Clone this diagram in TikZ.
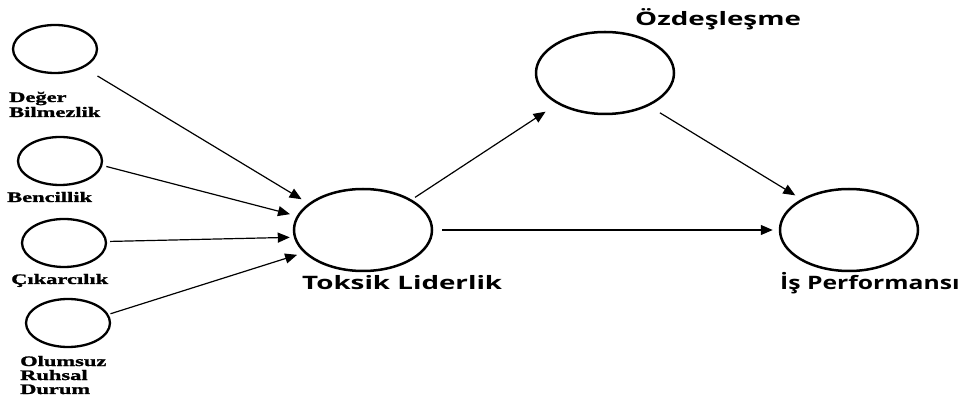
\documentclass[tikz,border=0pt]{standalone}
\usepackage{fontspec}
\usetikzlibrary{arrows.meta,shapes.geometric}
\newfontfamily\labserif[FakeStretch=1.55,FakeBold=1.5]{Liberation Serif}
\newfontfamily\labsans[FakeStretch=1.5]{Open Sans}
\begin{document}
\begin{tikzpicture}[x=1pt,y=-1pt,
  small/.style={draw,ellipse,line width=2.3pt,inner sep=0pt,minimum width=84pt,minimum height=48pt},
  big/.style={draw,ellipse,line width=2.5pt,inner sep=0pt,minimum width=138pt,minimum height=82pt},
  slab/.style={anchor=base west,inner sep=0pt,font=\labserif\bfseries\fontsize{14.5}{14}\selectfont,align=left},
  blab/.style={anchor=base west,inner sep=0pt,font=\labsans\bfseries\fontsize{18.5}{20}\selectfont},
  arr/.style={line width=1.2pt,-{Triangle[length=12pt,width=10pt]}}]
\useasboundingbox (0,0) rectangle (959,403);
\node[small] (d1) at (55,49) {};
\node[small] (d2) at (60,161) {};
\node[small] (d3) at (64,243) {};
\node[small] (d4) at (68,323) {};
\node[big] (tl) at (363,230) {};
\node[big] (oz) at (605,73) {};
\node[big] (ip) at (849,230) {};
\node[slab] (l1) at (9,117) {Değer\\[1pt]Bilmezlik};
\node[slab] (l2) at (7,202) {Bencillik};
\node[slab] (l3) at (11,284) {Çıkarcılık};
\node[slab] (l4) at (20,394) {Olumsuz\\Ruhsal\\Durum};
\node[blab] (ltl) at (302,290) {Toksik Liderlik};
\node[blab] (loz) at (635,26) {Özdeşleşme};
\node[blab] (lip) at (780,290) {\scalebox{0.89}[1]{İş Performansı}};
\draw[arr,shorten <=16pt,shorten >=8pt] (d1.-33) -- (tl.154);
\draw[arr,shorten <=4pt,shorten >=7pt] (d2.-6) -- (tl.168.4);
\draw[arr,shorten <=3pt,shorten >=4pt] (d3.2.5) -- (tl.186.3);
\draw[arr,shorten <=2pt,shorten >=7pt] (d4.12.1) -- (tl.201.8);
\draw[arr,shorten <=4pt,shorten >=14pt] (tl.32.4) -- (oz.213.9);
\draw[arr,shorten <=13pt,shorten >=7pt] (oz.-37.7) -- (ip.147);
\draw[arr,shorten <=9pt,shorten >=6pt] (tl.-0.5) -- (ip.180);
\end{tikzpicture}
\end{document}
